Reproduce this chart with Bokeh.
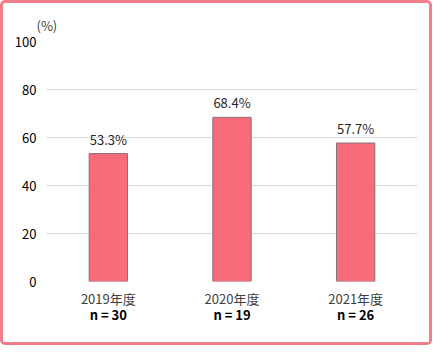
from bokeh.plotting import figure
from bokeh.layouts import column
from bokeh.models import ColumnDataSource, Range1d, FixedTicker, CategoricalAxis, FactorRange
from bokeh.core.properties import value
from bokeh.embed import file_html
from bokeh.resources import INLINE

categories = ["2019年度", "2020年度", "2021年度"]
n_labels = ["n = 30", "n = 19", "n = 26"]
values = [53.3, 68.4, 57.7]
value_labels = ["53.3%", "68.4%", "57.7%"]
y_ticks = [0, 20, 40, 60, 80, 100]

FONT = "Noto Sans CJK JP"

src = ColumnDataSource(dict(x=categories, top=values, lab=value_labels))

p = figure(x_range=FactorRange(*categories, range_padding=0), y_range=Range1d(0, 100),
           width=426, height=339, output_backend="svg", toolbar_location=None,
           min_border_left=43, min_border_right=12, min_border_top=38, min_border_bottom=61)
p.extra_x_ranges = {"n": FactorRange(*n_labels, range_padding=0)}
p.outline_line_color = None
p.background_fill_color = "white"
p.border_fill_color = "white"

p.title.text = "(%)"
p.title.align = "left"
p.title.offset = -10
p.title.text_font = FONT
p.title.text_font_size = "13px"
p.title.text_font_style = "normal"
p.title.text_color = "#404040"
p.title.standoff = 14

p.vbar(x="x", top="top", width=0.31, source=src, fill_color="#F76B7A",
       line_color="#8A7074", line_width=1)

p.text(x="x", y="top", text="lab", source=src, text_align="center", text_baseline="bottom",
       y_offset=-5, text_font=value(FONT), text_font_size="13px", text_color="#262626")

p.xgrid.grid_line_color = None
p.ygrid.grid_line_color = "#D9D9D9"
p.ygrid.grid_line_width = 1

p.yaxis.ticker = FixedTicker(ticks=y_ticks)
p.yaxis.axis_line_color = None
p.yaxis.major_tick_line_color = None
p.yaxis.minor_tick_line_color = None
p.yaxis.major_label_text_font = FONT
p.yaxis.major_label_text_font_size = "13px"
p.yaxis.major_label_text_color = "#000000"
p.yaxis.major_label_standoff = 4

p.xaxis.axis_line_color = None
p.xaxis.major_tick_line_color = None
p.xaxis.major_label_text_font = FONT
p.xaxis.major_label_text_font_size = "13px"
p.xaxis.major_label_text_color = "#404040"
p.xaxis.major_label_standoff = 1

nax = CategoricalAxis(x_range_name="n")
nax.axis_line_color = None
nax.major_tick_line_color = None
nax.major_label_text_font = FONT
nax.major_label_text_font_size = "13px"
nax.major_label_text_font_style = "bold"
nax.major_label_text_color = "#000000"
nax.major_label_standoff = -12
p.add_layout(nax, "below")

layout = column(p, styles={"border": "3px solid #F27D8B", "border-radius": "5px",
                           "background-color": "white"})

open("out.html", "w").write(file_html(layout, INLINE))
